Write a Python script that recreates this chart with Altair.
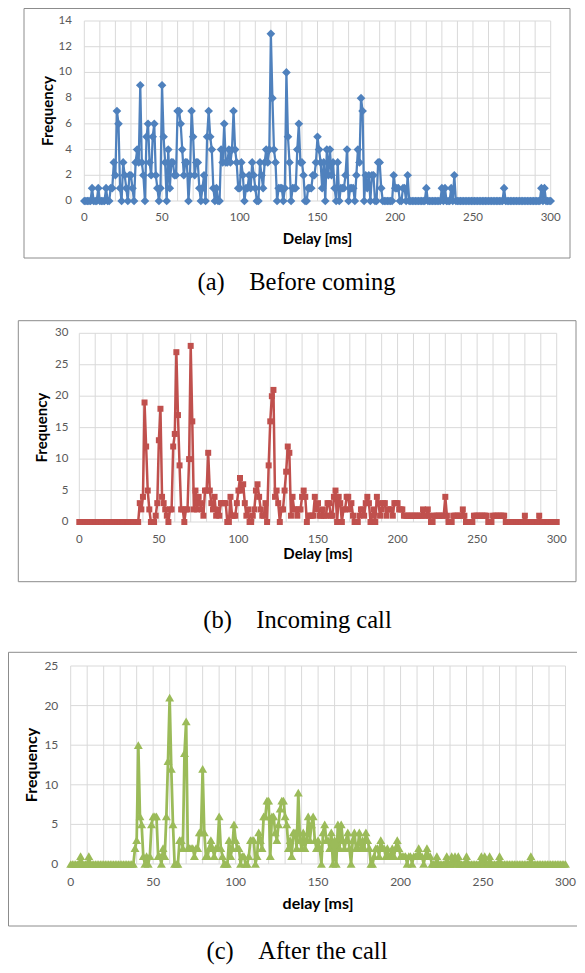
import altair as alt
import pandas as pd

delay = list(range(0, 301))

before_coming = [
    0, 0, 0, 0, 0, 1, 0, 0, 0, 1,
    0, 0, 0, 0, 1, 0, 0, 1, 1, 3,
    2, 7, 6, 1, 0, 3, 2, 1, 0, 2,
    2, 1, 0, 3, 4, 3, 9, 3, 2, 0,
    5, 6, 3, 2, 5, 6, 2, 1, 0, 1,
    9, 5, 3, 0, 4, 1, 3, 3, 2, 2,
    7, 7, 6, 4, 2, 3, 3, 0, 2, 7,
    5, 2, 3, 3, 1, 0, 1, 2, 0, 5,
    7, 5, 4, 1, 0, 1, 0, 0, 4, 3,
    6, 3, 3, 4, 3, 4, 7, 4, 3, 1,
    1, 3, 2, 0, 1, 1, 2, 1, 3, 2,
    1, 0, 0, 3, 2, 1, 3, 4, 3, 4,
    13, 8, 4, 3, 0, 1, 1, 1, 0, 1,
    10, 5, 3, 0, 1, 1, 1, 4, 6, 3,
    3, 2, 0, 0, 1, 1, 1, 2, 2, 3,
    5, 4, 3, 1, 3, 0, 4, 2, 4, 2,
    3, 1, 0, 3, 0, 1, 1, 1, 2, 4,
    0, 1, 1, 1, 0, 2, 4, 3, 8, 7,
    0, 2, 1, 2, 0, 2, 2, 0, 0, 3,
    3, 1, 0, 0, 0, 0, 0, 0, 0, 2,
    1, 1, 1, 0, 0, 1, 1, 0, 2, 0,
    0, 0, 0, 0, 0, 0, 0, 0, 0, 0,
    1, 0, 0, 0, 0, 0, 0, 0, 0, 0,
    1, 0, 1, 0, 0, 0, 1, 0, 2, 0,
    0, 0, 0, 0, 0, 0, 0, 0, 0, 0,
    0, 0, 0, 0, 0, 0, 0, 0, 0, 0,
    0, 0, 0, 0, 0, 0, 0, 0, 0, 0,
    1, 0, 0, 0, 0, 0, 0, 0, 0, 0,
    0, 0, 0, 0, 0, 0, 0, 0, 0, 0,
    0, 0, 0, 0, 1, 0, 1, 0, 0, 0,
    0,
]

incoming_call = [
    0, 0, 0, 0, 0, 0, 0, 0, 0, 0,
    0, 0, 0, 0, 0, 0, 0, 0, 0, 0,
    0, 0, 0, 0, 0, 0, 0, 0, 0, 0,
    0, 0, 0, 0, 0, 0, 0, 0, 3, 2,
    4, 19, 12, 5, 2, 0, 0, 0, 1, 3,
    13, 18, 4, 3, 2, 1, 0, 2, 2, 12,
    14, 27, 17, 9, 2, 2, 0, 2, 2, 10,
    28, 16, 2, 5, 2, 4, 3, 2, 1, 5,
    5, 11, 5, 3, 2, 4, 1, 2, 1, 3,
    3, 3, 3, 0, 0, 4, 1, 1, 1, 3,
    5, 7, 5, 6, 3, 1, 2, 0, 0, 1,
    2, 5, 6, 4, 2, 1, 1, 3, 0, 9,
    16, 20, 21, 4, 5, 3, 0, 2, 2, 5,
    8, 12, 11, 1, 4, 2, 2, 1, 2, 2,
    4, 5, 4, 0, 1, 1, 1, 1, 4, 2,
    3, 1, 1, 2, 1, 1, 3, 3, 1, 1,
    4, 5, 0, 4, 3, 0, 2, 2, 4, 4,
    2, 3, 1, 0, 0, 0, 1, 2, 2, 1,
    3, 4, 3, 0, 1, 2, 0, 4, 3, 1,
    2, 3, 3, 1, 2, 2, 2, 1, 3, 3,
    3, 2, 2, 2, 1, 1, 1, 1, 1, 1,
    1, 1, 1, 1, 1, 1, 2, 1, 1, 2,
    1, 0, 0, 1, 1, 1, 1, 1, 1, 1,
    4, 1, 0, 0, 0, 1, 1, 1, 1, 1,
    1, 2, 1, 0, 0, 0, 0, 0, 1, 1,
    1, 1, 1, 1, 1, 1, 1, 0, 0, 0,
    1, 1, 1, 1, 1, 1, 1, 1, 0, 0,
    0, 0, 0, 0, 0, 0, 0, 0, 0, 0,
    1, 0, 0, 0, 0, 0, 0, 0, 0, 1,
    0, 0, 0, 0, 0, 0, 0, 0, 0, 0,
    0,
]

after_call = [
    0, 0, 0, 0, 0, 0, 1, 0, 0, 0,
    0, 1, 0, 0, 0, 0, 0, 0, 0, 0,
    0, 0, 0, 0, 0, 0, 0, 0, 0, 0,
    0, 0, 0, 0, 0, 0, 0, 0, 0, 2,
    3, 15, 6, 5, 1, 0, 1, 0, 1, 5,
    6, 6, 6, 1, 1, 0, 2, 1, 6, 13,
    21, 12, 5, 0, 0, 0, 3, 3, 2, 14,
    18, 2, 2, 2, 2, 1, 2, 2, 4, 4,
    12, 4, 1, 1, 2, 3, 2, 1, 2, 2,
    6, 2, 1, 0, 0, 0, 3, 1, 2, 5,
    3, 2, 2, 0, 1, 1, 0, 0, 1, 3,
    3, 3, 0, 1, 4, 3, 2, 6, 6, 8,
    8, 1, 6, 6, 4, 3, 5, 7, 8, 8,
    6, 5, 2, 3, 1, 4, 4, 2, 9, 3,
    2, 4, 2, 3, 6, 3, 5, 6, 3, 2,
    3, 2, 0, 4, 5, 3, 3, 2, 4, 0,
    3, 0, 5, 2, 5, 3, 2, 3, 4, 2,
    0, 3, 4, 2, 2, 4, 2, 3, 2, 4,
    3, 2, 0, 0, 1, 2, 2, 1, 3, 2,
    2, 1, 2, 1, 1, 2, 1, 2, 3, 2,
    1, 1, 1, 1, 0, 1, 1, 0, 1, 1,
    1, 2, 1, 1, 0, 1, 2, 1, 1, 0,
    0, 0, 1, 0, 0, 0, 0, 0, 1, 0,
    0, 1, 0, 1, 0, 1, 0, 0, 0, 0,
    1, 0, 0, 0, 0, 0, 0, 0, 0, 1,
    0, 1, 0, 0, 1, 0, 0, 0, 0, 0,
    1, 0, 0, 0, 0, 0, 0, 0, 0, 0,
    0, 0, 0, 0, 0, 0, 0, 0, 0, 1,
    0, 0, 0, 0, 0, 0, 0, 0, 0, 0,
    0, 0, 0, 0, 0, 0, 0, 0, 0, 0,
    0,
]

x_grid_values = list(range(0, 301, 10))
x_label_values = [0, 50, 100, 150, 200, 250, 300]
NB = "\u00a0"
captions = [
    "(a)" + NB * 4 + "Before coming",
    "(b)" + NB * 4 + "Incoming call",
    "(c)" + NB * 4 + "After the call",
]
x_titles = ["Delay [ms]", "Delay [ms]", "delay [ms]"]
y_title = "Frequency"
colors = ["#4F81BD", "#C0504D", "#9BBB59"]

W, H = 569, 957
GRID = "#D9D9D9"
LABEL = "#595959"
BORDER = "#8C8C8C"

panels = [
    dict(vals=before_coming, color=colors[0], shape="diamond", msize=75, sw=2.25,
         ymax=14, ystep=2, l=76.3, r=542.7, t=13, b=193, xtitle=x_titles[0],
         caption=captions[0], cap=(288.5, 275), cap_base="middle", box=(16, 562, 0.5, 250),
         ylab_gap=12.5, xlab_y=210.3, xtitle_y=231.3, ytitle_x=39.7, ls=11.5, ts=15),
    dict(vals=incoming_call, color=colors[1], shape="square", msize=36, sw=2.5,
         ymax=30, ystep=5, l=71.3, r=548.7, t=325.3, b=514, xtitle=x_titles[1],
         caption=captions[1], cap=(289.5, 613), cap_base="middle", box=(10.3, 568, 312.7, 573.7),
         ylab_gap=11, xlab_y=532, xtitle_y=545.5, ytitle_x=33.7, ls=11.5, ts=15),
    dict(vals=after_call, color=colors[2], shape="triangle-up", msize=80, sw=2.75,
         ymax=25, ystep=5, l=62.7, r=557.5, t=658, b=856, xtitle=x_titles[2],
         caption=captions[2], cap=(289, 956), cap_base="bottom", box=(0.5, 590, 644.3, 918),
         ylab_gap=12.4, xlab_y=873.7, xtitle_y=896.3, ytitle_x=24.3, ls=12, ts=16),
]


def build(p):
    XS = alt.Scale(domain=[0, 300], range=[p["l"], p["r"]], nice=False, zero=False)
    YS = alt.Scale(domain=[0, p["ymax"]], range=[p["b"], p["t"]], nice=False, zero=False)
    df = pd.DataFrame({"delay": delay, "freq": p["vals"]})
    gx = pd.DataFrame({"v": x_grid_values})
    gy = pd.DataFrame({"v": list(range(0, p["ymax"] + 1, p["ystep"]))})
    xl = pd.DataFrame({"v": x_label_values})
    one = alt.Chart(pd.DataFrame({"k": [0]}))

    border = one.mark_rect(fill="transparent", stroke=BORDER, strokeWidth=1).encode(
        x=alt.value(p["box"][0]), x2=alt.value(p["box"][1]),
        y=alt.value(p["box"][2]), y2=alt.value(p["box"][3]))
    vgrid = alt.Chart(gx).mark_rule(color=GRID, strokeWidth=1).encode(
        x=alt.X("v:Q", scale=XS, axis=None), y=alt.value(p["t"]), y2=alt.value(p["b"]))
    hgrid = alt.Chart(gy).mark_rule(color=GRID, strokeWidth=1).encode(
        y=alt.Y("v:Q", scale=YS, axis=None), x=alt.value(p["l"]), x2=alt.value(p["r"]))
    series = alt.Chart(df).mark_line(
        color=p["color"], strokeWidth=p["sw"],
        point=alt.OverlayMarkDef(shape=p["shape"], size=p["msize"], filled=True,
                                 color=p["color"], opacity=1),
    ).encode(
        x=alt.X("delay:Q", scale=XS, axis=None),
        y=alt.Y("freq:Q", scale=YS, axis=None),
    )
    xlab = alt.Chart(xl).mark_text(font="Lato", fontSize=p["ls"], color=LABEL,
                                   align="center", baseline="middle").encode(
        x=alt.X("v:Q", scale=XS, axis=None), y=alt.value(p["xlab_y"]), text=alt.Text("v:Q"))
    ylab = alt.Chart(gy).mark_text(font="Lato", fontSize=p["ls"], color=LABEL,
                                   align="right", baseline="middle").encode(
        y=alt.Y("v:Q", scale=YS, axis=None), x=alt.value(p["l"] - p["ylab_gap"]),
        text=alt.Text("v:Q"))
    xtitle = one.mark_text(text=p["xtitle"], font="Lato", fontSize=p["ts"], fontWeight="bold",
                           color="#000000", align="center", baseline="middle").encode(
        x=alt.value((p["l"] + p["r"]) / 2), y=alt.value(p["xtitle_y"]))
    ytitle = one.mark_text(text=y_title, font="Lato", fontSize=p["ts"], fontWeight="bold",
                           color="#000000", align="center", baseline="middle", angle=270).encode(
        x=alt.value(p["ytitle_x"]), y=alt.value((p["t"] + p["b"]) / 2))
    cap = one.mark_text(text=p["caption"], font="Liberation Serif", fontSize=24.5,
                        color="#000000", align="center", baseline=p["cap_base"]).encode(
        x=alt.value(p["cap"][0]), y=alt.value(p["cap"][1]))
    return alt.layer(border, vgrid, hgrid, series, xlab, ylab, xtitle, ytitle, cap)


chart = alt.layer(*[build(p) for p in panels]).resolve_scale(
    x="independent", y="independent"
).properties(
    width=W, height=H, padding=0, autosize=alt.AutoSizeParams(type="none")
).configure_view(stroke=None)

chart.save("out.html", embed_options={"renderer": "svg", "actions": False})
